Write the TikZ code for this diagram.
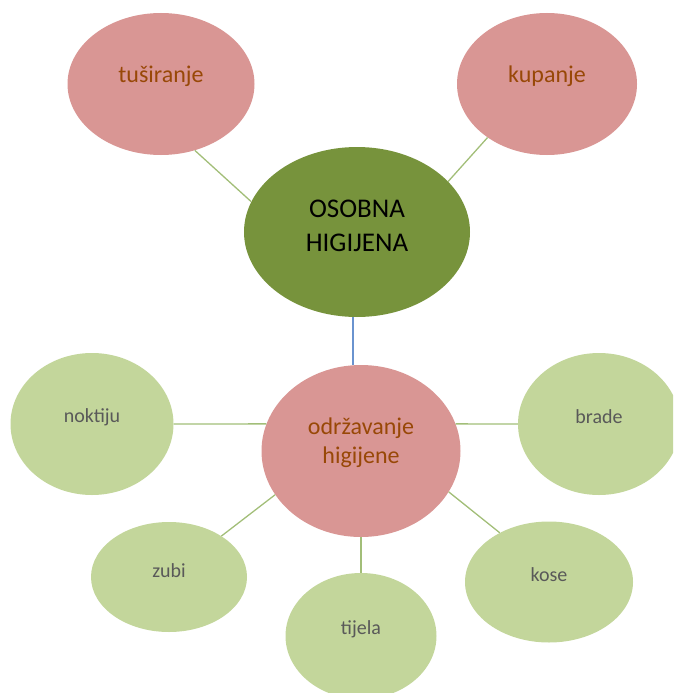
\documentclass[tikz,border=0pt]{standalone}
\usepackage{fontspec}
\setmainfont{Carlito}
\usetikzlibrary{shapes.geometric}

\begin{document}
\begin{tikzpicture}[x=1pt, y=-1pt,
    ball/.style={ellipse, draw=none, inner sep=0pt},
    pinkball/.style={ball, fill=fillPink},
    greenball/.style={ball, fill=fillGreen},
    darkball/.style={ball, fill=fillDark},
    pinktext/.style={text=textBrown, font=\fontsize{24}{29}\selectfont, align=center},
    greentext/.style={text=textGrey, font=\fontsize{20}{24}\selectfont},
    darktext/.style={text=black, font=\fontsize{27}{34}\selectfont, align=center},
    link/.style={draw=lineGreen, line width=1.3pt}]

    \definecolor{fillPink}{HTML}{D99694}
    \definecolor{fillGreen}{HTML}{C3D69B}
    \definecolor{fillDark}{HTML}{77933C}
    \definecolor{textBrown}{HTML}{984807}
    \definecolor{textGrey}{HTML}{595959}
    \definecolor{lineGreen}{HTML}{A2BE78}
    \definecolor{lineBlue}{HTML}{6A93CF}

    % Page frame
    \clip (0,0) rectangle (673,693);

    % Centre
    \node[darkball, minimum width=226pt, minimum height=170pt] (osob) at (357,232) {};
    \node[darktext] (osobT) at (357,226) {OSOBNA\\HIGIJENA};

    % Top ellipses
    \node[pinkball, minimum width=187pt, minimum height=142pt] (tus) at (161,84) {};
    \node[pinktext] (tusT) at (161,76) {tuširanje};
    \node[pinkball, minimum width=180pt, minimum height=142pt] (kup) at (547,84) {};
    \node[pinktext] (kupT) at (547,76) {kupanje};

    % Second centre
    \node[pinkball, minimum width=199pt, minimum height=172pt] (odr) at (361,451) {};
    \node[pinktext] (odrT) at (361,443) {održavanje\\higijene};

    % Outer ellipses
    \node[greenball, minimum width=163pt, minimum height=142pt] (nok) at (92,424) {};
    \node[greentext] (nokT) at (92,417) {noktiju};
    \node[greenball, minimum width=162pt, minimum height=142pt] (brd) at (599,424) {};
    \node[greentext] (brdT) at (599,417) {brade};
    \node[greenball, minimum width=168pt, minimum height=121pt] (kos) at (549,582) {};
    \node[greentext] (kosT) at (549,575) {kose};
    \node[greenball, minimum width=156pt, minimum height=110pt] (zub) at (169,577) {};
    \node[greentext] (zubT) at (169,571) {zubi};
    \node[greenball, minimum width=151pt, minimum height=126pt] (tij) at (361,636) {};
    \node[greentext] (tijT) at (361,629) {tijela};

    % Connectors
    \draw[link] (tus.-63) -- (osob.164);
    \draw[link] (kup.222) -- (osob.29);
    \draw[draw=lineBlue, line width=1.2pt] ([xshift=-4pt]osob.south) -- ([xshift=-4pt]osob.south |- odr.north);
    \draw[link] (nok.east) -- (odr.164);
    \draw[link] (odr.16) -- (brd.west);
    \draw[link] (odr.-25) -- (kos.135);
    \draw[link] (odr.207) -- (zub.38);
    \draw[link] (odr.south) -- (tij.north);

\end{tikzpicture}
\end{document}
